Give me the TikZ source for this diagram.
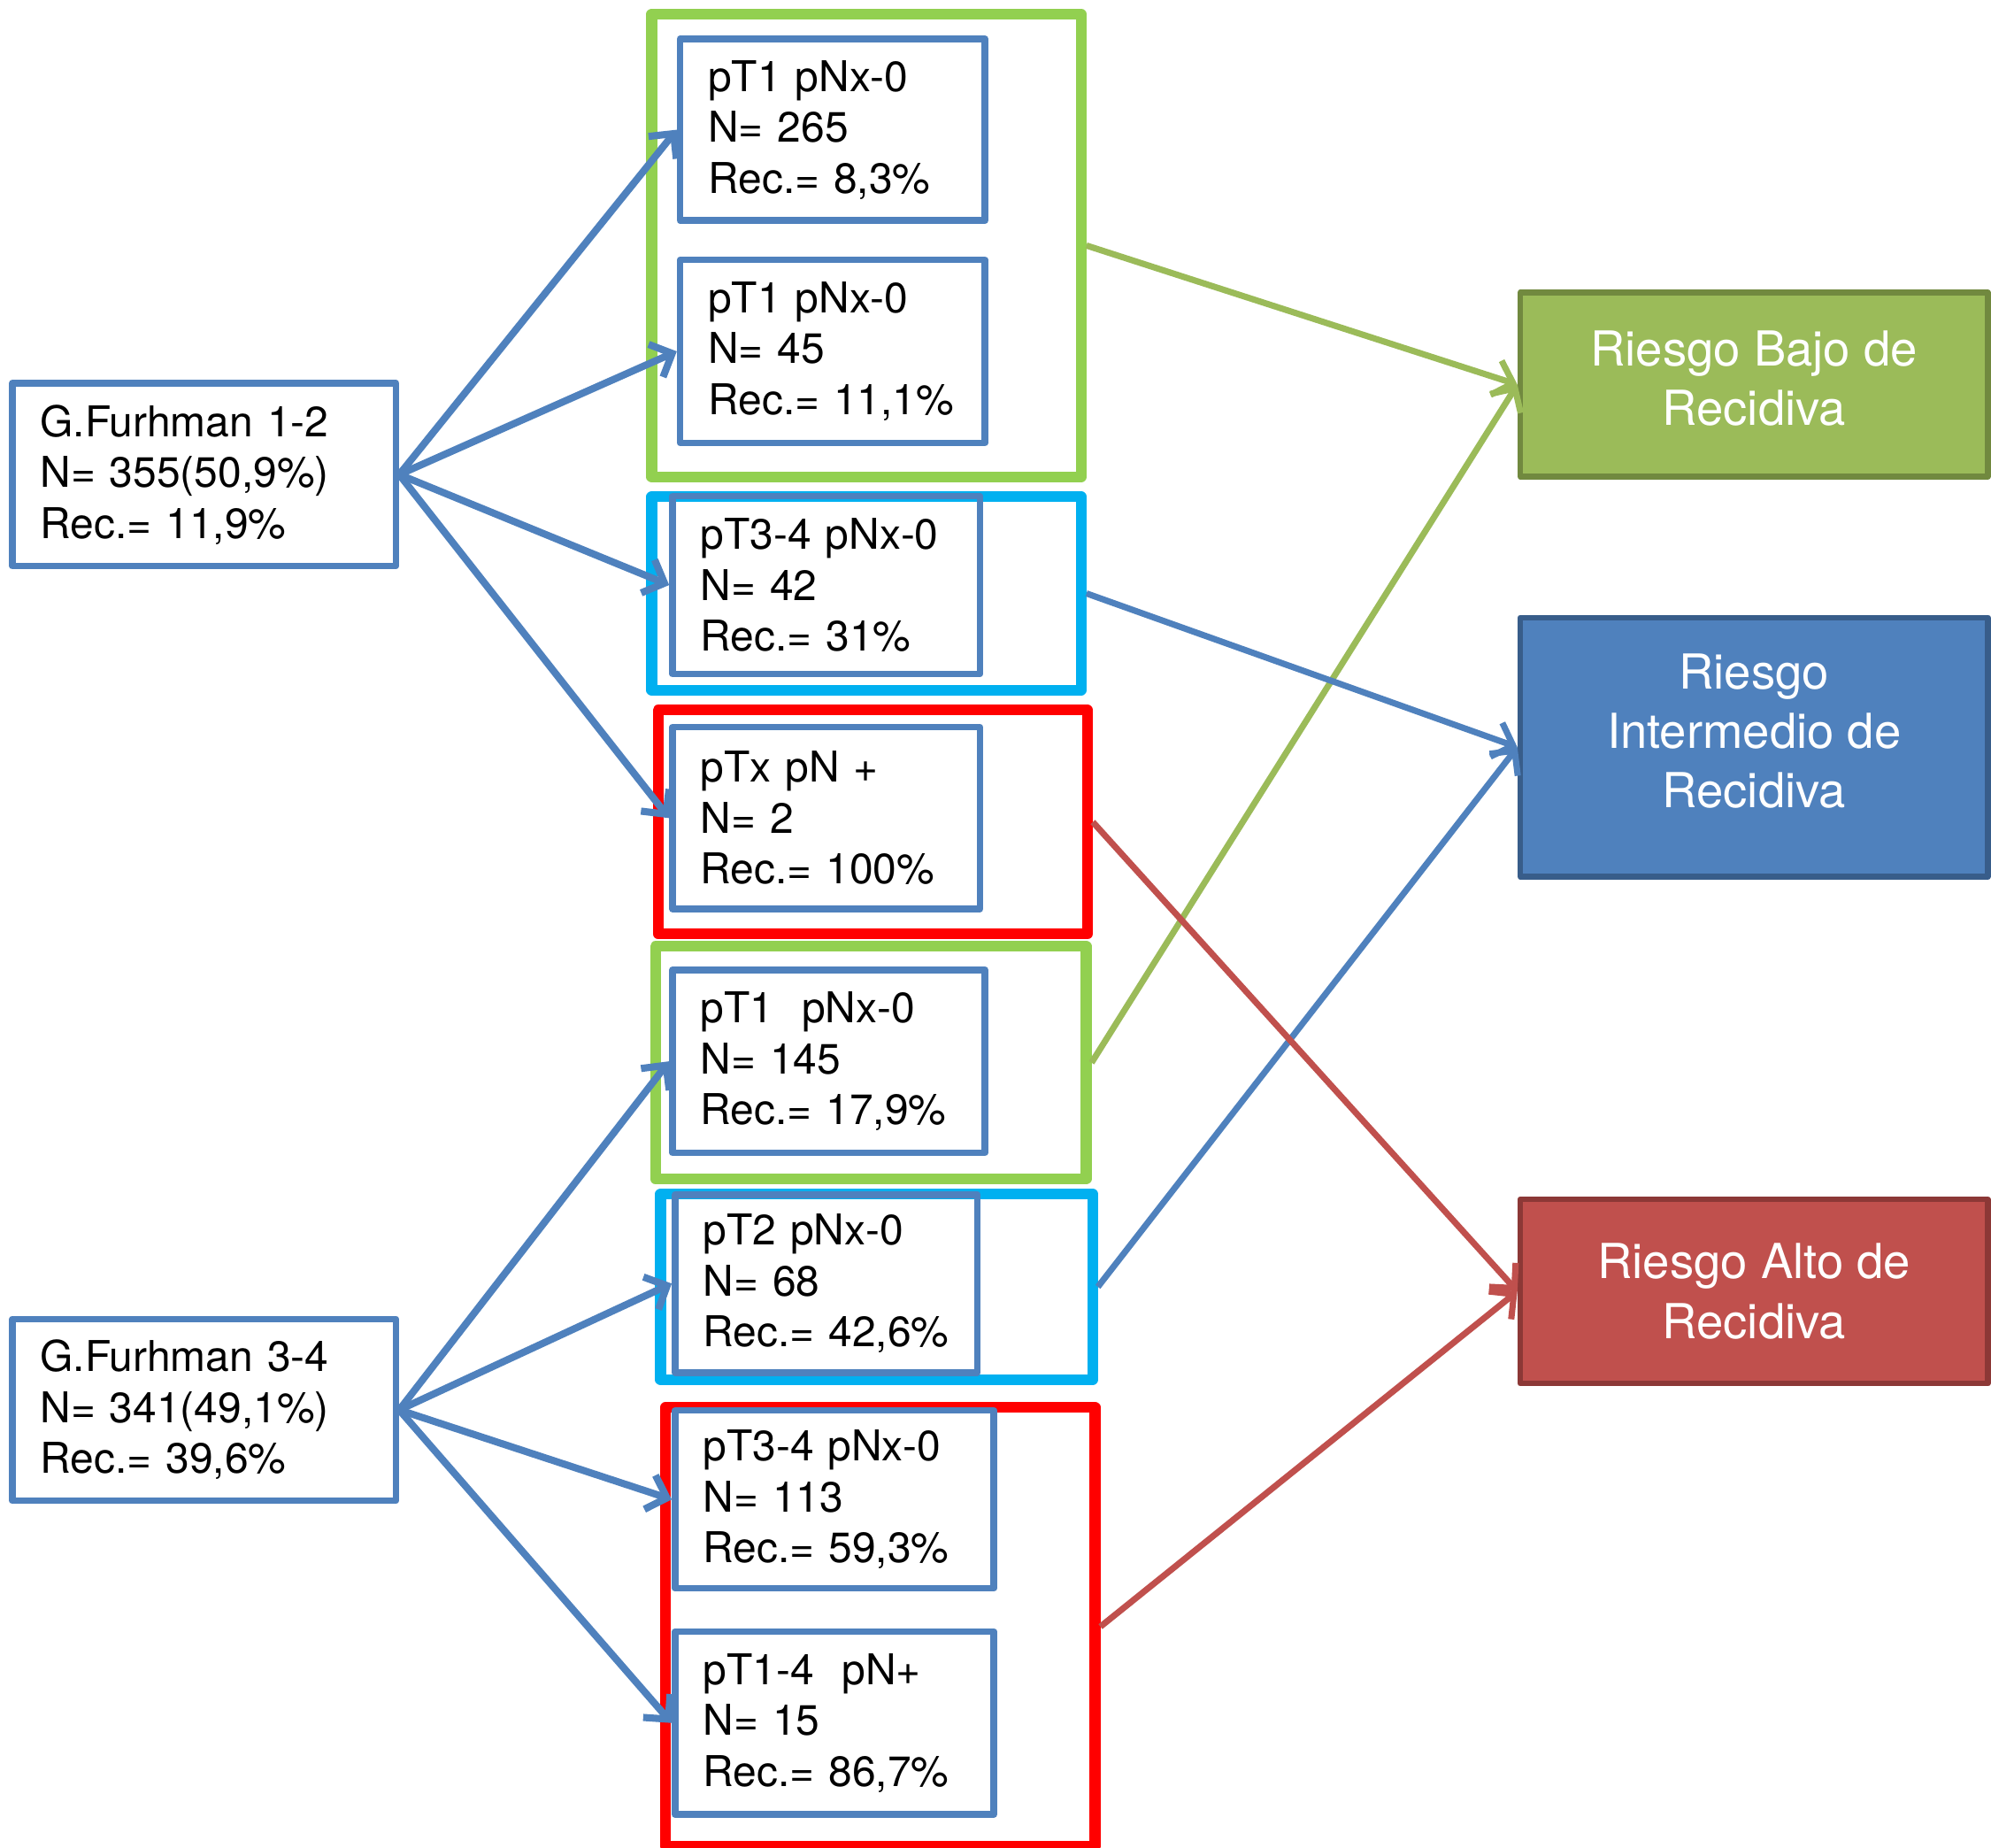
\documentclass[tikz,border=0pt]{standalone}
\usepackage{fontspec}
\setmainfont{TeX Gyre Heros}
\usetikzlibrary{arrows.meta}
\definecolor{boxblue}{HTML}{4F81BD}
\definecolor{grpgreen}{HTML}{92D050}
\definecolor{grpcyan}{HTML}{00B0F0}
\definecolor{grpred}{HTML}{FF0000}
\definecolor{lowfill}{HTML}{9BBB59}
\definecolor{lowdraw}{HTML}{71893F}
\definecolor{midfill}{HTML}{4F81BD}
\definecolor{middraw}{HTML}{385D8A}
\definecolor{highfill}{HTML}{C0504D}
\definecolor{highdraw}{HTML}{8C3836}
\tikzset{
  inbox/.style={draw=boxblue, line width=1.5pt, anchor=north west, align=left,
    inner xsep=0.22cm, text width=#1, minimum height=1.43cm,
    font=\fontsize{9.5}{11.4}\selectfont},
  grpbox/.style={draw=#1, line width=2.4pt, anchor=north west, inner sep=0pt},
  riskbox/.style 2 args={fill=#1, draw=#2, line width=1.3pt, anchor=north west,
    align=center, text=white, minimum width=3.68cm,
    font=\fontsize{10.8}{13.3}\selectfont},
  link/.style={draw=#1, line width=1.6pt, ->}
}
\begin{document}
\begin{tikzpicture}[x=0.01cm, y=-0.01cm, >={Straight Barb[length=4pt,width=8pt]}, line join=round]
\useasboundingbox (0,0) rectangle (1568,1455);
% group frames
\node[grpbox=grpgreen, minimum width=3.38cm, minimum height=3.64cm] (g1) at (509,7) {};
\node[grpbox=grpcyan, minimum width=3.38cm, minimum height=1.52cm] (c1) at (509,387) {};
\node[grpbox=grpred, minimum width=3.38cm, minimum height=1.76cm] (r1) at (514,555) {};
\node[grpbox=grpgreen, minimum width=3.39cm, minimum height=1.83cm] (g2) at (512,741) {};
\node[grpbox=grpcyan, minimum width=3.40cm, minimum height=1.46cm] (c2) at (516,936) {};
\node[grpbox=grpred, minimum width=3.38cm, minimum height=3.45cm] (r2) at (520,1104) {};
% Furhman grades
\node[inbox=2.58cm, minimum height=1.44cm] (f12) at (7,299) {G.Furhman 1-2\\N=~355(50,9\%)\\Rec.=~11,9\%};
\node[inbox=2.58cm] (f34) at (7,1036) {G.Furhman 3-4\\N=~341(49,1\%)\\Rec.=~39,6\%};
% stages
\node[inbox=1.96cm] (a1) at (533,28) {pT1~pNx-0\\N=~265\\Rec.=~8,3\%};
\node[inbox=1.96cm, minimum height=1.44cm] (a2) at (533,202) {pT1~pNx-0\\N=~45\\Rec.=~11,1\%};
\node[inbox=1.98cm, minimum height=1.40cm] (c1i) at (527,388) {pT3-4~pNx-0\\N=~42\\Rec.=~31\%};
\node[inbox=1.98cm] (r1i) at (527,570) {pTx~pN~+\\N=~2\\Rec.=~100\%};
\node[inbox=2.02cm, minimum height=1.44cm] (g2i) at (527,761) {pT1~~pNx-0\\N=~145\\Rec.=~17,9\%};
\node[inbox=1.94cm, minimum height=1.40cm] (c2i) at (529,938) {pT2~pNx-0\\N=~68\\Rec.=~42,6\%};
\node[inbox=2.07cm, minimum height=1.40cm] (r2a) at (529,1108) {pT3-4~pNx-0\\N=~113\\Rec.=~59,3\%};
\node[inbox=2.07cm, minimum height=1.44cm] (r2b) at (529,1282) {pT1-4~~pN+\\N=~15\\Rec.=~86,7\%};
% risk classes
\node[riskbox={lowfill}{lowdraw}, minimum height=1.45cm, text depth=0.1cm] (low) at (1195,228) {Riesgo Bajo de\\Recidiva};
\node[riskbox={midfill}{middraw}, minimum height=2.04cm, text depth=0.26cm] (mid) at (1195,484) {Riesgo\\Intermedio de\\Recidiva};
\node[riskbox={highfill}{highdraw}, minimum height=1.45cm] (high) at (1195,942) {Riesgo Alto de\\Recidiva};
% arrows
\foreach \t in {a1,a2,c1i,r1i} \draw[link=boxblue] (f12.east) -- (\t.west);
\foreach \t in {g2i,c2i,r2a,r2b} \draw[link=boxblue] (f34.east) -- (\t.west);
\draw[link=lowfill, line width=1.4pt] (g1.east) -- (low.west);
\draw[link=lowfill, line width=1.4pt] (g2.east) -- (low.west);
\draw[link=midfill, line width=1.4pt] (c1.east) -- (mid.west);
\draw[link=midfill, line width=1.4pt] (c2.east) -- (mid.west);
\draw[link=highfill, line width=1.4pt] (r1.east) -- (high.west);
\draw[link=highfill, line width=1.4pt] (r2.east) -- (high.west);
\end{tikzpicture}
\end{document}
